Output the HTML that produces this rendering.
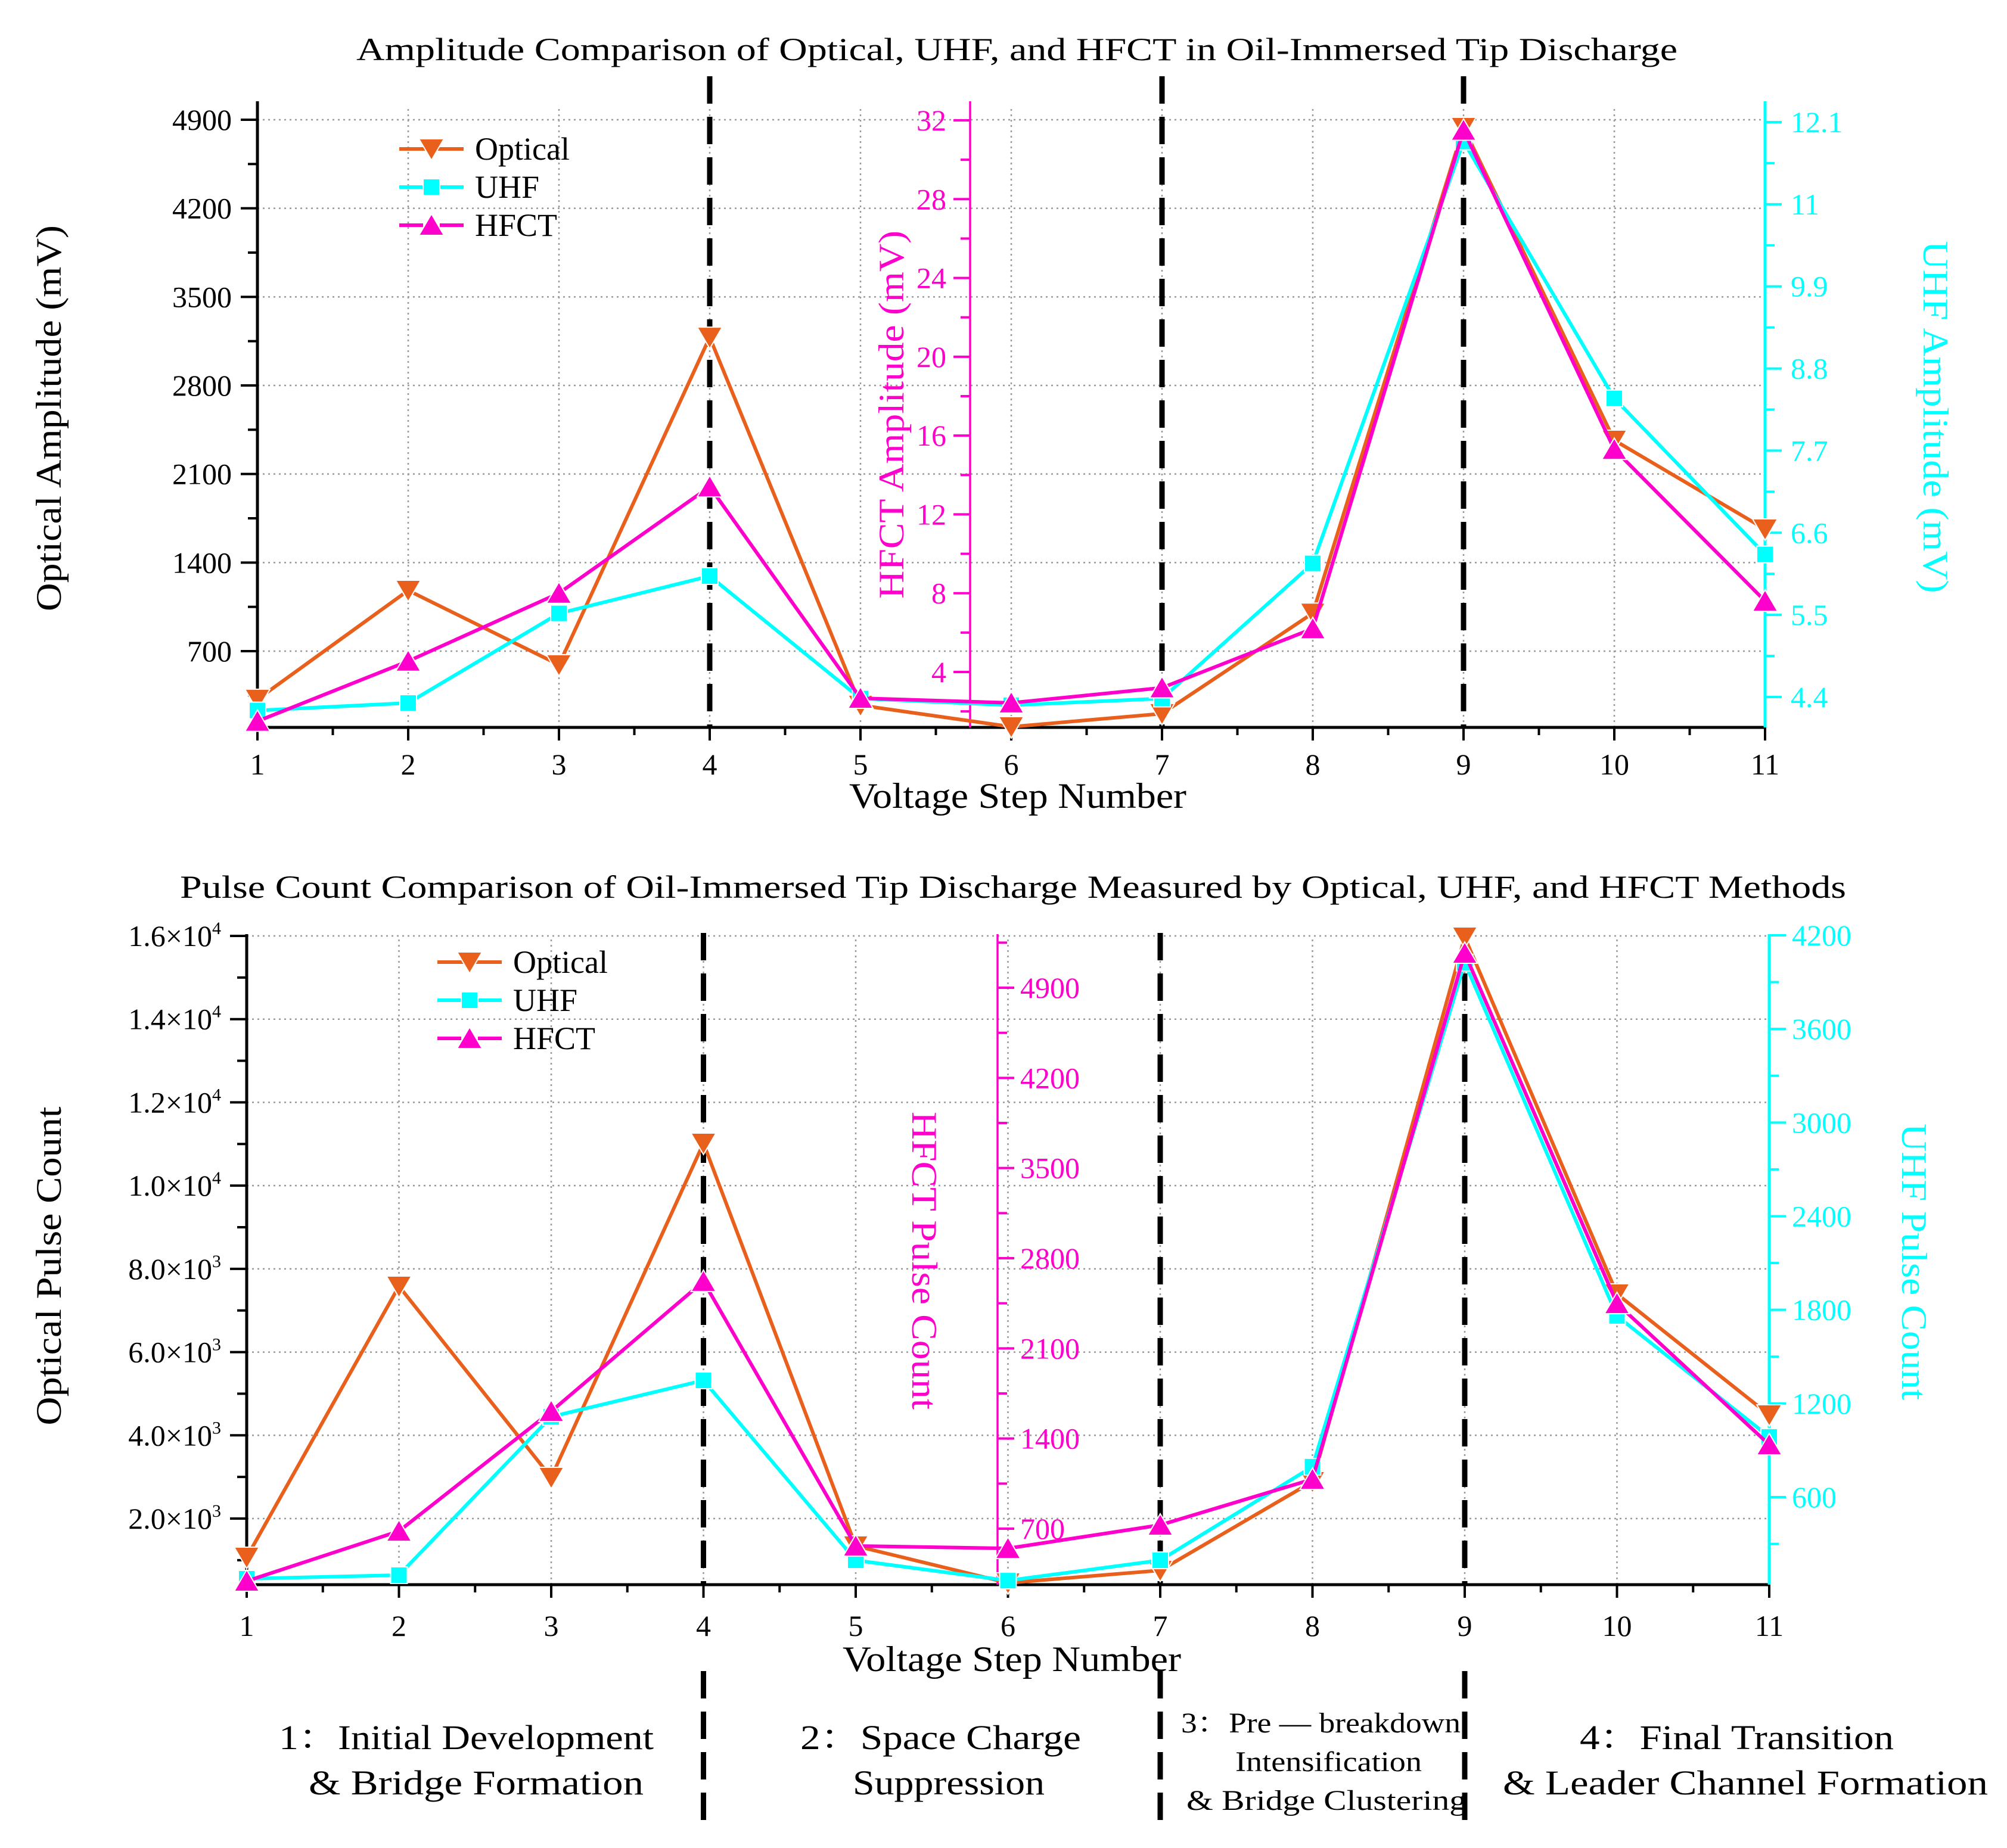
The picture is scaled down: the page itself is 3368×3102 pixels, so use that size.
<!DOCTYPE html>
<html><head><meta charset="utf-8"><style>
html,body{margin:0;padding:0;background:#fff;}
svg{display:block;font-family:"Liberation Serif","Noto Serif CJK SC",serif;}
</style></head><body>
<svg id="fig" width="3368" height="3102" viewBox="0 0 3368 3102" xmlns="http://www.w3.org/2000/svg"></svg>
<script>
// ---------- data ----------
const steps = [1,2,3,4,5,6,7,8,9,10,11];
const ampOptical = [319,1180,592,3181,272,102,206,1000,4839,2367,1665];
const ampUHF = [4.22,4.32,5.52,6.02,4.38,4.29,4.38,6.19,11.84,8.40,6.31];
const ampHFCT = [1.5,4.55,8.0,13.4,2.67,2.43,3.2,6.2,31.5,15.3,7.6];
const cntOptical = [1070,7583,2988,11018,1342,454,755,2887,15971,7397,4490];
const cntUHF = [77,100,1115,1348,195,65,195,795,4025,1761,986];
const cntHFCT = [293,681,1611,2620,566,547,728,1084,5168,2448,1352];
const ampLeftTicks = [700,1400,2100,2800,3500,4200,4900];
const ampUHFTicks = [4.4,5.5,6.6,7.7,8.8,9.9,11,12.1];
const ampHFCTTicks = [4,8,12,16,20,24,28,32];
const cntLeftTicks = [2000,4000,6000,8000,10000,12000,14000,16000];
const cntLeftLabels = [["2.0×10","3"],["4.0×10","3"],["6.0×10","3"],["8.0×10","3"],["1.0×10","4"],["1.2×10","4"],["1.4×10","4"],["1.6×10","4"]];
const cntHFCTTicks = [700,1400,2100,2800,3500,4200,4900];
const cntUHFTicks = [600,1200,1800,2400,3000,3600,4200];
const phaseSteps = [4,7,9];

const C_OPT = "#E8601C", C_UHF = "#00FFFF", C_HF = "#FF00CC";
const svg = document.getElementById('fig');
const NS = "http://www.w3.org/2000/svg";
function mk(tag, attrs, parent){
  const e = document.createElementNS(NS, tag);
  for (const k in attrs) e.setAttribute(k, attrs[k]);
  (parent||svg).appendChild(e);
  return e;
}
function lin(d0,d1,r0,r1){ return v => r0 + (v-d0)*(r1-r0)/(d1-d0); }

function txt(parent, x, y, s, size, fill, anchor, extra){
  const t = mk('text', Object.assign({x:x, y:y, 'font-size':size, fill:fill, 'text-anchor':anchor||'start'}, extra||{}), parent);
  t.textContent = s;
  return t;
}

function marker(g, type, x, y, color){
  let m;
  if (type==='down'){
    m = mk('polygon', {points:`${x-21},${y-17} ${x+21},${y-17} ${x},${y+19}`, fill:color, stroke:'#fff', 'stroke-width':2}, g);
  } else if (type==='up'){
    m = mk('polygon', {points:`${x-21},${y+17} ${x+21},${y+17} ${x},${y-19}`, fill:color, stroke:'#fff', 'stroke-width':2}, g);
  } else {
    m = mk('rect', {x:x-14, y:y-14, width:28, height:28, fill:color, stroke:'#fff', 'stroke-width':2}, g);
  }
  return m;
}

function series(g, name, vals, X, Y, color, type){
  const sg = mk('g', {}, g);
  
  
  const pts = vals.map((v,i)=>X(steps[i]).toFixed(1)+','+Y(v).toFixed(1)).join(' ');
  const pl = mk('polyline', {points:pts, fill:'none', stroke:color, 'stroke-width':6, 'stroke-linejoin':'round'}, sg);
  
  
  vals.forEach((v,i)=>{
    const m = marker(sg, type, X(steps[i]), Y(v), color);
    
    
  });
}

function legend(g, lx, ly){
  const items = [["Optical",C_OPT,'down'],["UHF",C_UHF,'sq'],["HFCT",C_HF,'up']];
  const lg = mk('g', {}, g);
  
  
  items.forEach((it,i)=>{
    const y = ly + i*64;
    const eg = mk('g', {}, lg);
    
    
    mk('line', {x1:lx, y1:y, x2:lx+108, y2:y, stroke:it[1], 'stroke-width':6, 'stroke-dasharray': it[2]==='down'?'none':'40,28,40'}, eg);
    marker(eg, it[2], lx+54, y, it[1]);
    txt(eg, lx+127, y+18, it[0], 54, '#000');
  });
}

function chart(cfg){
  const g = mk('g', {});
  
  
  const X = lin(1,11,cfg.x0,cfg.x1);
  const yB = cfg.yBottom, yT = cfg.yTop;
  const grid = mk('g', {stroke:'#9a9a9a', 'stroke-width':2.5, 'stroke-dasharray':'3,6'}, g);
  
  
  cfg.leftTicks.forEach(v=>{ const y=cfg.YL(v); mk('line',{x1:cfg.x0,y1:y,x2:cfg.x1,y2:y},grid); });
  steps.forEach(s=>{ if(s>1 && s<11){ const x=X(s); mk('line',{x1:x,y1:yB,x2:x,y2:yT+8},grid);} });
  phaseSteps.forEach(s=>{
    const l = mk('line', {x1:X(s), y1:cfg.dashTop, x2:X(s), y2:yB, stroke:'#000', 'stroke-width':9, 'stroke-dasharray':'46,22'}, g);
    
    
  });
  const xa = mk('g', {}, g);
  
  
  mk('line', {x1:cfg.x0-2, y1:yB, x2:cfg.x1+2, y2:yB, stroke:'#000', 'stroke-width':5}, xa);
  steps.forEach(s=>{
    const x = X(s);
    mk('line', {x1:x, y1:yB, x2:x, y2:yB+22, stroke:'#000', 'stroke-width':4}, xa);
    if (s<11) mk('line', {x1:X(s+0.5), y1:yB, x2:X(s+0.5), y2:yB+13, stroke:'#000', 'stroke-width':4}, xa);
    txt(xa, x, cfg.xLabelY, String(s), 50, '#000', 'middle');
  });
  const xt = txt(xa, (cfg.xTitleL+cfg.xTitleR)/2, cfg.xTitleY, 'Voltage Step Number', 60, '#000', 'middle', {textLength:cfg.xTitleR-cfg.xTitleL, lengthAdjust:'spacingAndGlyphs'});
  
  

  function vaxis(nm, ax, YF, ticks, minorStep, color, side, labelX, labels, title, tcx, tcy, tlen, rot){
    const a = mk('g', {}, g);
    
    
    const isMid = side==='midL' || side==='midR';
    mk('line', {x1:ax, y1:yT, x2:ax, y2:yB, stroke:color, 'stroke-width':isMid?3.5:5}, a);
    const dir = (side==='right' || side==='midR') ? 1 : -1;
    const anchor = dir===1 ? 'start' : 'end';
    ticks.forEach((v,i)=>{
      const y = YF(v);
      mk('line', {x1:ax, y1:y, x2:ax+dir*28, y2:y, stroke:color, 'stroke-width':4}, a);
      const t = txt(a, labelX, y+17, '', 50, color, anchor);
      if (Array.isArray(labels[i])){
        t.textContent = labels[i][0];
        const sp = mk('tspan', {'font-size':30, dy:-20}, t);
        sp.textContent = labels[i][1];
      } else t.textContent = labels[i];
    });
    const lo = ticks[0], step = ticks[1]-ticks[0];
    for (let k=-4; k<ticks.length+4; k++){
      const v = lo + k*step + minorStep;
      if (Math.abs(((v-lo)/step) - Math.round((v-lo)/step)) < 1e-6) continue;
      const y = YF(v);
      if (y < yT+2 || y > yB-2) continue;
      mk('line', {x1:ax, y1:y, x2:ax+dir*16, y2:y, stroke:color, 'stroke-width':4}, a);
    }
    const tt = txt(a, 0, 0, title, 60, color, 'middle', {transform:`translate(${tcx},${tcy}) rotate(${rot})`, textLength:tlen, lengthAdjust:'spacingAndGlyphs'});
    tt.setAttribute('dy', 20);
    
    
  }
  cfg.axes.forEach(a=>vaxis.apply(null, a));
  series(g, 'optical', cfg.opt, X, cfg.YL, C_OPT, 'down');
  series(g, 'uhf', cfg.uhf, X, cfg.YU, C_UHF, 'sq');
  series(g, 'hfct', cfg.hf, X, cfg.YH, C_HF, 'up');
  legend(g, cfg.legX, cfg.legY);
  const ti = txt(g, (cfg.titleL+cfg.titleR)/2, cfg.titleY, cfg.title, 54, '#000', 'middle', {textLength:cfg.titleR-cfg.titleL, lengthAdjust:'spacingAndGlyphs'});
  
  
}

const tYL = lin(700,4900,1093,201), tYU = lin(4.4,12.1,1170,205), tYH = lin(4,32,1128,202);
chart({
  name:'amplitude-chart', x0:432, x1:2962, yBottom:1221, yTop:170, dashTop:128,
  YL:tYL, YU:tYU, YH:tYH, leftTicks:ampLeftTicks,
  xLabelY:1300, xTitleY:1356, xTitleL:1425, xTitleR:1991,
  opt:ampOptical, uhf:ampUHF, hf:ampHFCT, legX:670, legY:250,
  title:'Amplitude Comparison of Optical, UHF, and HFCT in Oil-Immersed Tip Discharge', titleY:101, titleL:598, titleR:2815,
  axes:[
    ['optical-amplitude-axis',432,tYL,ampLeftTicks,350,'#000','left',389,ampLeftTicks.map(String),'Optical Amplitude (mV)',82,702,648,-90],
    ['hfct-amplitude-axis',1628,tYH,ampHFCTTicks,2,C_HF,'midL',1588,ampHFCTTicks.map(String),'HFCT Amplitude (mV)',1496,696,618,-90],
    ['uhf-amplitude-axis',2962,tYU,ampUHFTicks,0.55,C_UHF,'right',3005,ampUHFTicks.map(String),'UHF Amplitude (mV)',3248,700,591,90]
  ]
});

const bYL = lin(2000,16000,2549,1571), bYU = lin(600,4200,2513,1570), bYH = lin(700,4900,2566,1658);
chart({
  name:'pulse-count-chart', x0:414, x1:2969, yBottom:2660, yTop:1568, dashTop:1566,
  YL:bYL, YU:bYU, YH:bYH, leftTicks:cntLeftTicks,
  xLabelY:2746, xTitleY:2805, xTitleL:1414, xTitleR:1982,
  opt:cntOptical, uhf:cntUHF, hf:cntHFCT, legX:734, legY:1615,
  title:'Pulse Count Comparison of Oil-Immersed Tip Discharge Measured by Optical, UHF, and HFCT Methods', titleY:1507, titleL:302, titleR:3098,
  axes:[
    ['optical-pulse-axis',414,bYL,cntLeftTicks,1000,'#000','left',371,cntLeftLabels,'Optical Pulse Count',82,2125,535,-90],
    ['hfct-pulse-axis',1674,bYH,cntHFCTTicks,350,C_HF,'midR',1712,cntHFCTTicks.map(String),'HFCT Pulse Count',1551,2116,500,90],
    ['uhf-pulse-axis',2969,bYU,cntUHFTicks,300,C_UHF,'right',3007,cntUHFTicks.map(String),'UHF Pulse Count',3212,2118,464,90]
  ]
});

const ann = mk('g', {});


const bX = lin(1,11,414,2969);
phaseSteps.forEach(s=>{
  const l = mk('line', {x1:bX(s), y1:2805, x2:bX(s), y2:3068, stroke:'#000', 'stroke-width':9, 'stroke-dasharray':'46,22'}, ann);
  
  
});
const phaseText = [
  ['phase-1-label-line1','1：Initial Development',468,1097,2936,58],
  ['phase-1-label-line2','& Bridge Formation',518,1080,3012,58],
  ['phase-2-label-line1','2：Space Charge',1343,1814,2936,58],
  ['phase-2-label-line2','Suppression',1431,1753,3012,58],
  ['phase-3-label-line1','3：Pre — breakdown',1982,2451,2908,48],
  ['phase-3-label-line2','Intensification',2073,2386,2973,48],
  ['phase-3-label-line3','& Bridge Clustering',1991,2461,3038,48],
  ['phase-4-label-line1','4：Final Transition',2651,3178,2936,58],
  ['phase-4-label-line2','& Leader Channel Formation',2522,3336,3012,58]
];
phaseText.forEach(p=>{
  const t = txt(ann, (p[2]+p[3])/2, p[4], p[1], p[5], '#000', 'middle', {textLength:p[3]-p[2], lengthAdjust:'spacingAndGlyphs'});
  
  
});
</script>
</body></html>
